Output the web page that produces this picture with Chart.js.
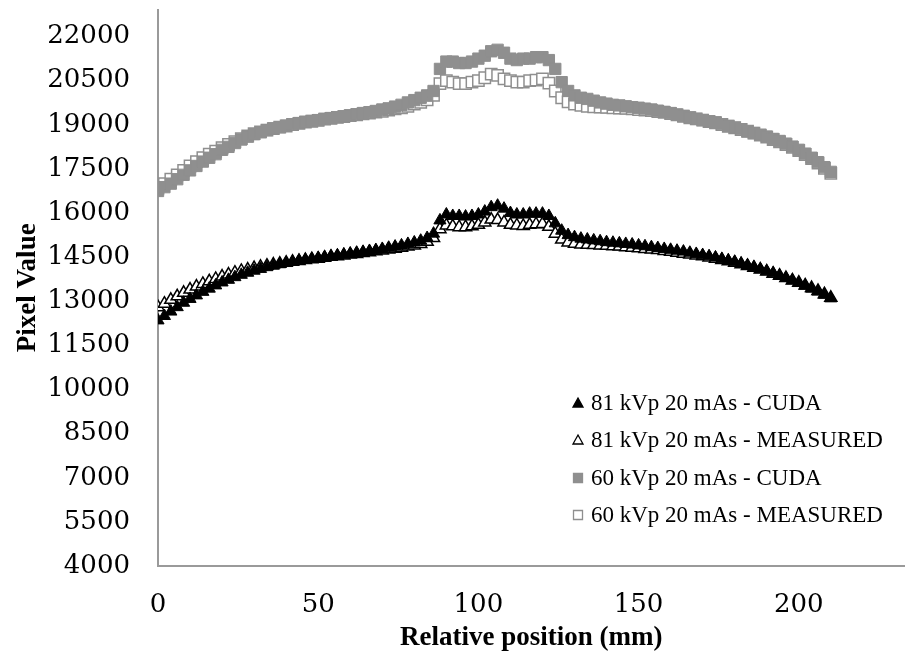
<!DOCTYPE html>
<html lang="en">
<head>
    <meta charset="UTF-8">
    <title>Pixel value profile</title>
    <style>
        body {
            margin: 0;
            background: #ffffff;
            overflow: hidden;
        }
        .wrap {
            position: relative;
            width: 914px;
            height: 659px;
        }
    </style>
</head>
<body>

<div class="wrap">
    <canvas id="profile" width="914" height="659"></canvas>
</div>

<script src="https://cdn.jsdelivr.net/npm/chart.js"></script>
<script>
    // positions along the profile (mm)
    const positions = [
        0, 2, 4, 6, 8, 10, 12, 14, 16, 18,
        20, 22, 24, 26, 28, 30, 32, 34, 36, 38,
        40, 42, 44, 46, 48, 50, 52, 54, 56, 58,
        60, 62, 64, 66, 68, 70, 72, 74, 76, 78,
        80, 82, 84, 86, 88, 90, 92, 94, 96, 98,
        100, 102, 104, 106, 108, 110, 112, 114, 116, 118,
        120, 122, 124, 126, 128, 130, 132, 134, 136, 138,
        140, 142, 144, 146, 148, 150, 152, 154, 156, 158,
        160, 162, 164, 166, 168, 170, 172, 174, 176, 178,
        180, 182, 184, 186, 188, 190, 192, 194, 196, 198,
        200, 202, 204, 206, 208, 210
    ];

    const cuda81 = [
        12350, 12500, 12650, 12800, 12950, 13080, 13200, 13320, 13430, 13540,
        13640, 13730, 13820, 13900, 13970, 14040, 14100, 14160, 14210, 14260,
        14300, 14340, 14380, 14410, 14440, 14470, 14500, 14530, 14560, 14590,
        14620, 14650, 14680, 14710, 14740, 14780, 14820, 14860, 14900, 14950,
        15000, 15060, 15150, 15300, 15750, 15950, 15900, 15900, 15880, 15900,
        15950, 16050, 16200, 16250, 16150, 16000, 15950, 15950, 15980, 15980,
        15980, 15900, 15650, 15400, 15250, 15180, 15130, 15100, 15070, 15040,
        15010, 14990, 14970, 14950, 14930, 14900, 14870, 14840, 14810, 14780,
        14750, 14720, 14690, 14650, 14610, 14570, 14530, 14490, 14440, 14390,
        14340, 14280, 14220, 14160, 14090, 14020, 13950, 13870, 13790, 13710,
        13620, 13530, 13430, 13330, 13220, 13100
    ];

    const measured81 = [
        12800, 12920, 13050, 13170, 13290, 13400, 13500, 13590, 13680, 13760,
        13840, 13910, 13970, 14030, 14080, 14130, 14170, 14210, 14250, 14280,
        14310, 14340, 14370, 14400, 14430, 14450, 14480, 14510, 14530, 14560,
        14590, 14610, 14640, 14670, 14700, 14730, 14760, 14790, 14820, 14860,
        14900, 14950, 15020, 15150, 15450, 15580, 15550, 15520, 15520, 15550,
        15600, 15680, 15780, 15760, 15680, 15600, 15580, 15560, 15600, 15620,
        15630, 15530, 15300, 15100, 15000, 14960, 14930, 14920, 14910, 14900,
        14890, 14870, 14860, 14840, 14820, 14800, 14780, 14760, 14740, 14710,
        14680, 14650, 14620, 14590, 14560, 14530, 14490, 14450, 14400, 14360,
        14310, 14260, 14200, 14140, 14080, 14010, 13940, 13870, 13790, 13710,
        13630, 13540, 13450, 13350, 13240, 13120
    ];

    const cuda60 = [
        16750, 16880, 17000, 17150, 17300, 17450, 17600, 17750, 17880, 18000,
        18150, 18250, 18380, 18500, 18600, 18680, 18750, 18820, 18880, 18920,
        18970, 19020, 19060, 19100, 19130, 19160, 19200, 19230, 19260, 19290,
        19320, 19360, 19400, 19430, 19470, 19520, 19560, 19620, 19680, 19760,
        19840, 19920, 20000, 20150, 20900, 21150, 21150, 21100, 21100, 21150,
        21250, 21350, 21500, 21550, 21450, 21250, 21200, 21250, 21250, 21300,
        21300, 21200, 20900, 20450, 20150, 20000, 19920, 19880, 19820, 19760,
        19720, 19680, 19660, 19630, 19600, 19580, 19550, 19520, 19480, 19440,
        19400, 19350, 19300, 19250, 19200, 19160, 19120, 19080, 19020, 18960,
        18900, 18850, 18780, 18720, 18660, 18600, 18520, 18450, 18360, 18260,
        18150, 18020, 17880, 17730, 17560, 17400
    ];

    const measured60 = [
        16850, 17000, 17150, 17300, 17450, 17600, 17750, 17880, 18000, 18100,
        18220, 18330, 18430, 18530, 18620, 18700, 18760, 18820, 18870, 18920,
        18960, 19010, 19050, 19090, 19120, 19150, 19190, 19220, 19250, 19280,
        19310, 19340, 19370, 19400, 19430, 19460, 19500, 19540, 19580, 19630,
        19700, 19760, 19850, 20000, 20400, 20500, 20450, 20400, 20400, 20450,
        20500, 20600, 20720, 20680, 20560, 20500, 20450, 20450, 20500, 20520,
        20560, 20420, 20150, 19920, 19780, 19700, 19660, 19630, 19610, 19600,
        19590, 19580, 19570, 19560, 19540, 19520, 19500, 19480, 19450, 19420,
        19380, 19340, 19290, 19240, 19200, 19160, 19110, 19070, 19010, 18950,
        18900, 18840, 18780, 18720, 18650, 18580, 18500, 18420, 18330, 18230,
        18120, 17990, 17850, 17700, 17520, 17350
    ];

    const seriesNames = [
        '81 kVp 20 mAs - CUDA',
        '81 kVp 20 mAs - MEASURED',
        '60 kVp 20 mAs - CUDA',
        '60 kVp 20 mAs - MEASURED'
    ];

    const xTicks = [0, 50, 100, 150, 200];
    const yTicks = [4000, 5500, 7000, 8500, 10000, 11500, 13000, 14500, 16000, 17500, 19000, 20500, 22000];

    const grey = '#8f8f8f';
    const serif = "'Liberation Serif', 'Times New Roman', serif";
    const tickFont = "'DejaVu Serif', serif";

    function toPoints(values) {
        return values.map((v, i) => ({ x: positions[i], y: v }));
    }

    // legend drawn inside the plot, lower right (like the original)
    const insideLegend = {
        id: 'insideLegend',
        afterDraw(chart) {
            const ctx = chart.ctx;
            const area = chart.chartArea;
            const mx = area.left + 420;
            const tx = mx + 13;
            const rowY = [403, 440, 478, 515];
            ctx.save();
            ctx.font = '23px ' + serif;
            ctx.textBaseline = 'middle';
            ctx.textAlign = 'left';
            chart.data.datasets.forEach((ds, i) => {
                const y = rowY[i];
                ctx.lineWidth = 1.3;
                ctx.fillStyle = ds.backgroundColor;
                ctx.strokeStyle = ds.borderColor;
                ctx.beginPath();
                if (ds.pointStyle === 'triangle') {
                    ctx.moveTo(mx, y - 5);
                    ctx.lineTo(mx + 5, y + 4);
                    ctx.lineTo(mx - 5, y + 4);
                    ctx.closePath();
                } else {
                    ctx.rect(mx - 4.5, y - 4.5, 9, 9);
                }
                ctx.fill();
                ctx.stroke();
                ctx.fillStyle = '#000';
                ctx.fillText(ds.label, tx, y + 1);
            });
            ctx.restore();
        }
    };

    const ctx = document.getElementById('profile').getContext('2d');

    const chart = new Chart(ctx, {
        type: 'scatter',
        data: {
            datasets: [
                {
                    label: seriesNames[0],
                    data: toPoints(cuda81),
                    pointStyle: 'triangle',
                    pointRadius: 7,
                    backgroundColor: '#000000',
                    borderColor: '#000000',
                    borderWidth: 1
                },
                {
                    label: seriesNames[1],
                    data: toPoints(measured81),
                    pointStyle: 'triangle',
                    pointRadius: 7,
                    backgroundColor: '#ffffff',
                    borderColor: '#000000',
                    borderWidth: 1.5
                },
                {
                    label: seriesNames[2],
                    data: toPoints(cuda60),
                    pointStyle: 'rect',
                    pointRadius: 8,
                    backgroundColor: grey,
                    borderColor: grey,
                    borderWidth: 1
                },
                {
                    label: seriesNames[3],
                    data: toPoints(measured60),
                    pointStyle: 'rect',
                    pointRadius: 8,
                    backgroundColor: '#ffffff',
                    borderColor: grey,
                    borderWidth: 1.5
                }
            ]
        },
        options: {
            responsive: false,
            animation: false,
            showLine: false,
            layout: {
                padding: { top: 8, right: 3, left: 0, bottom: 0 }
            },
            plugins: {
                legend: { display: false },
                tooltip: { enabled: false }
            },
            scales: {
                x: {
                    type: 'linear',
                    min: 0,
                    max: 233,
                    afterBuildTicks: s => { s.ticks = xTicks.map(v => ({ value: v })); },
                    afterFit: s => { s.height = 93; },
                    grid: { display: false },
                    border: { display: true, color: '#9a9a9a', width: 2 },
                    ticks: {
                        color: '#000',
                        padding: 16,
                        maxRotation: 0,
                        font: { family: tickFont, size: 26 },
                        callback: v => String(v)
                    },
                    title: {
                        display: true,
                        text: 'Relative position (mm)',
                        color: '#000',
                        font: { family: serif, size: 27, weight: 'bold' },
                        padding: { top: 0, bottom: 5 }
                    }
                },
                y: {
                    type: 'linear',
                    min: 4000,
                    max: 22920,
                    afterBuildTicks: s => { s.ticks = yTicks.map(v => ({ value: v })); },
                    afterFit: s => {
                        s.width = 158;
                        s.paddingTop = 0;
                        s.paddingBottom = 0;
                    },
                    grid: { display: false },
                    border: { display: true, color: '#9a9a9a', width: 2 },
                    ticks: {
                        color: '#000',
                        padding: 20,
                        font: { family: tickFont, size: 26 },
                        callback: v => String(v)
                    },
                    title: {
                        display: true,
                        text: 'Pixel Value',
                        color: '#000',
                        font: { family: serif, size: 27, weight: 'bold' },
                        padding: { top: 12, bottom: 0 }
                    }
                }
            }
        },
        plugins: [insideLegend]
    });
</script>

</body>
</html>
